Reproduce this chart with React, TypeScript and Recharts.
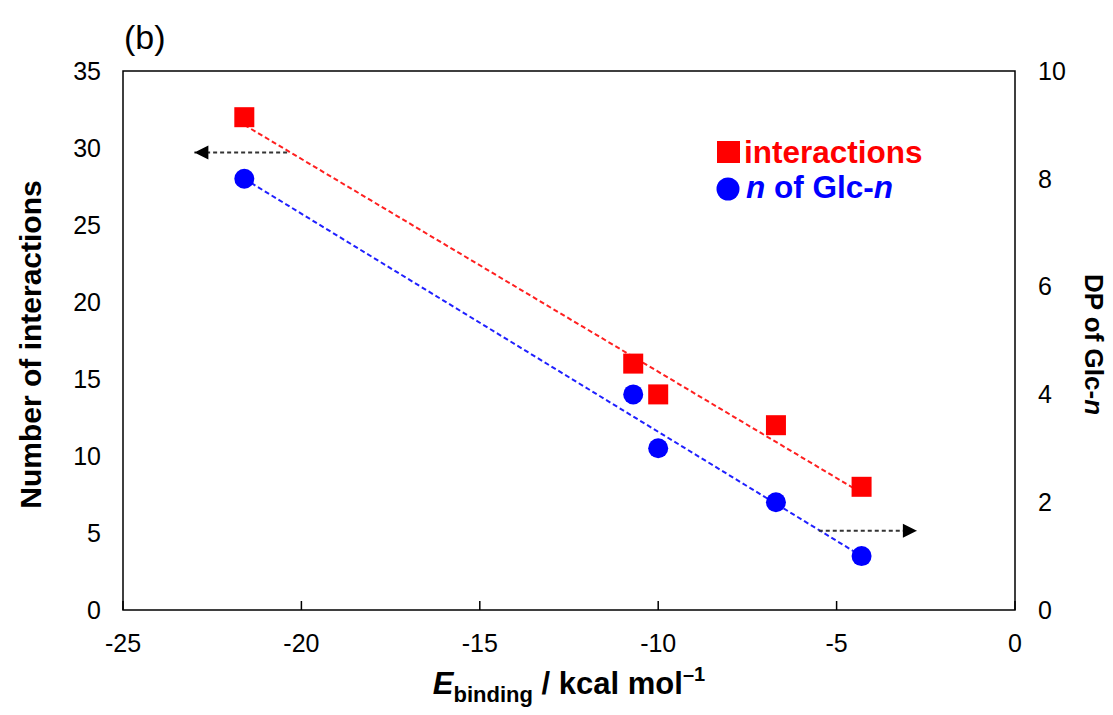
import {
  Legend,
  ReferenceArea,
  ReferenceDot,
  ReferenceLine,
  Scatter,
  ScatterChart,
  XAxis,
  YAxis,
} from "recharts";

const FONT = "'Liberation Sans', Arial, sans-serif";

// E_binding (kcal/mol) for each complex
const energies = [-21.6, -10.7, -10.0, -6.7, -4.3];
// number of interactions (left axis)
const interactions = [32, 16, 14, 12, 8];
// DP of Glc-n (right axis)
const dpValues = [8, 4, 3, 2, 1];

const xTicks = [-25, -20, -15, -10, -5, 0];
const leftTicks = [0, 5, 10, 15, 20, 25, 30, 35];
const rightTicks = [0, 2, 4, 6, 8, 10];

// trend line ends
const redTrend = [
  { x: -21.6, y: 31.5 },
  { x: -4.3, y: 7.6 },
];
const blueTrend = [
  { x: -21.6, y: 8.0 },
  { x: -4.3, y: 1.0 },
];

// axis hint arrows: [start, tip]
const leftArrow = [
  { x: -20.4, y: 29.7 },
  { x: -23.0, y: 29.7 },
];
const rightArrow = [
  { x: -5.5, y: 1.47 },
  { x: -2.75, y: 1.47 },
];

const redData = energies.map((x, i) => ({ x, y: interactions[i] }));
const blueData = energies.map((x, i) => ({ x, y: dpValues[i] }));

function RedSquare({ cx, cy }: { cx?: number; cy?: number }) {
  if (cx == null || cy == null) return null;
  return <rect x={cx - 10} y={cy - 10} width={20} height={20} fill="#ff0000" />;
}

function BlueDot({ cx, cy }: { cx?: number; cy?: number }) {
  if (cx == null || cy == null) return null;
  return <circle cx={cx} cy={cy} r={10} fill="#0000ff" />;
}

function headShape(dir: "left" | "right") {
  return ({ cx, cy }: { cx?: number; cy?: number }) => {
    if (cx == null || cy == null) return <g />;
    const s = dir === "left" ? 1 : -1;
    return (
      <polygon
        points={`${cx},${cy} ${cx + s * 14},${cy - 7} ${cx + s * 14},${cy + 7}`}
        fill="#000"
      />
    );
  };
}

function XTick({ x, y, payload }: any) {
  return (
    <g>
      <line x1={x} x2={x} y1={y} y2={y - 9} stroke="#000" strokeWidth={1.5} />
      <text
        x={x}
        y={y + 33}
        textAnchor="middle"
        dominantBaseline="central"
        fontFamily={FONT}
        fontSize={25}
        fill="#000"
      >
        {payload.value}
      </text>
    </g>
  );
}

function LeftTitle({ viewBox }: any) {
  const cx = (viewBox?.x ?? 0) + 30;
  const cy = (viewBox?.y ?? 71) + (viewBox?.height ?? 539) / 2 + 4;
  return (
    <text
      x={cx}
      y={cy}
      transform={`rotate(-90, ${cx}, ${cy})`}
      textAnchor="middle"
      dominantBaseline="central"
      fontFamily={FONT}
      fontWeight="bold"
      fontSize={30}
      fill="#000"
    >
      Number of interactions
    </text>
  );
}

function RightTitle({ viewBox }: any) {
  const cx = (viewBox?.x ?? 1015) + 79;
  const cy = (viewBox?.y ?? 71) + (viewBox?.height ?? 539) / 2 + 4;
  return (
    <text
      x={cx}
      y={cy}
      transform={`rotate(90, ${cx}, ${cy})`}
      textAnchor="middle"
      dominantBaseline="central"
      fontFamily={FONT}
      fontWeight="bold"
      fontSize={26}
      fill="#000"
    >
      DP of Glc-<tspan fontStyle="italic">n</tspan>
    </text>
  );
}

function XTitle({ viewBox }: any) {
  const cx = (viewBox?.x ?? 123) + (viewBox?.width ?? 892) / 2;
  const y = (viewBox?.y ?? 610) + 84;
  return (
    <text
      x={cx}
      y={y}
      textAnchor="middle"
      fontFamily={FONT}
      fontWeight="bold"
      fontSize={31}
      fill="#000"
    >
      <tspan fontStyle="italic">E</tspan>
      <tspan fontSize={22} dy={8}>
        binding
      </tspan>
      <tspan dy={-8}> / kcal mol</tspan>
      <tspan fontSize={20} dy={-13}>
        –1
      </tspan>
    </text>
  );
}

function LegendBox() {
  return (
    <svg width={280} height={76} style={{ display: "block", overflow: "visible" }}>
      <rect x={3} y={4} width={23} height={22} fill="#ff0000" />
      <text x={30} y={26} fontFamily={FONT} fontWeight="bold" fontSize={31.5} fill="#ff0000">
        interactions
      </text>
      <circle cx={14} cy={52} r={11.5} fill="#0000ff" />
      <text x={32} y={61} fontFamily={FONT} fontWeight="bold" fontSize={31.5} fill="#0000ff">
        <tspan fontStyle="italic">n</tspan> of Glc-<tspan fontStyle="italic">n</tspan>
      </text>
    </svg>
  );
}

export default function App() {
  return (
    <div style={{ position: "absolute", left: 0, top: 0, width: 1113, height: 715, background: "#fff" }}>
      <svg width={300} height={70} style={{ position: "absolute", left: 0, top: 0 }}>
        <text x={124} y={49} fontFamily={FONT} fontSize={34} fill="#000">
          (b)
        </text>
      </svg>
      <ScatterChart
        width={1113}
        height={715}
        margin={{ top: 71, right: 0, bottom: 0, left: 0 }}
      >
        <XAxis
          type="number"
          dataKey="x"
          domain={[-25, 0]}
          ticks={xTicks}
          axisLine={false}
          tickLine={false}
          tickSize={0}
          tickMargin={0}
          height={105}
          tick={<XTick />}
          label={(p: any) => <XTitle {...p} />}
        />
        <YAxis
          yAxisId="left"
          type="number"
          dataKey="y"
          domain={[0, 35]}
          ticks={leftTicks}
          axisLine={false}
          tickLine={false}
          tickSize={0}
          tickMargin={22}
          width={123}
          tick={{ fill: "#000", fontSize: 25, fontFamily: FONT }}
          label={(p: any) => <LeftTitle {...p} />}
        />
        <YAxis
          yAxisId="right"
          orientation="right"
          type="number"
          dataKey="y"
          domain={[0, 10]}
          ticks={rightTicks}
          axisLine={false}
          tickLine={false}
          tickSize={0}
          tickMargin={23}
          width={98}
          tick={{ fill: "#000", fontSize: 25, fontFamily: FONT, textAnchor: "start" }}
          label={(p: any) => <RightTitle {...p} />}
        />
        <ReferenceArea
          yAxisId="left"
          x1={-25}
          x2={0}
          y1={0}
          y2={35}
          fill="none"
          fillOpacity={0}
          stroke="#000"
          strokeWidth={1.5}
        />
        <ReferenceLine
          yAxisId="left"
          segment={redTrend}
          stroke="#ff2020"
          strokeWidth={2}
          strokeDasharray="5 3"
        />
        <ReferenceLine
          yAxisId="right"
          segment={blueTrend}
          stroke="#2020ff"
          strokeWidth={2}
          strokeDasharray="5 3"
        />
        <ReferenceLine
          yAxisId="left"
          segment={leftArrow}
          stroke="#333"
          strokeWidth={2}
          strokeDasharray="4 3"
        />
        <ReferenceLine
          yAxisId="right"
          segment={rightArrow}
          stroke="#333"
          strokeWidth={2}
          strokeDasharray="4 3"
        />
        <ReferenceDot
          yAxisId="left"
          x={leftArrow[1].x}
          y={leftArrow[1].y}
          shape={headShape("left")}
        />
        <ReferenceDot
          yAxisId="right"
          x={rightArrow[1].x}
          y={rightArrow[1].y}
          shape={headShape("right")}
        />
        <Scatter
          yAxisId="left"
          name="interactions"
          data={redData}
          shape={<RedSquare />}
          isAnimationActive={false}
        />
        <Scatter
          yAxisId="right"
          name="n of Glc-n"
          data={blueData}
          shape={<BlueDot />}
          isAnimationActive={false}
        />
        <Legend
          layout="vertical"
          align="center"
          verticalAlign="middle"
          wrapperStyle={{ top: 137, left: 714, width: 280 }}
          content={() => <LegendBox />}
        />
      </ScatterChart>
    </div>
  );
}
